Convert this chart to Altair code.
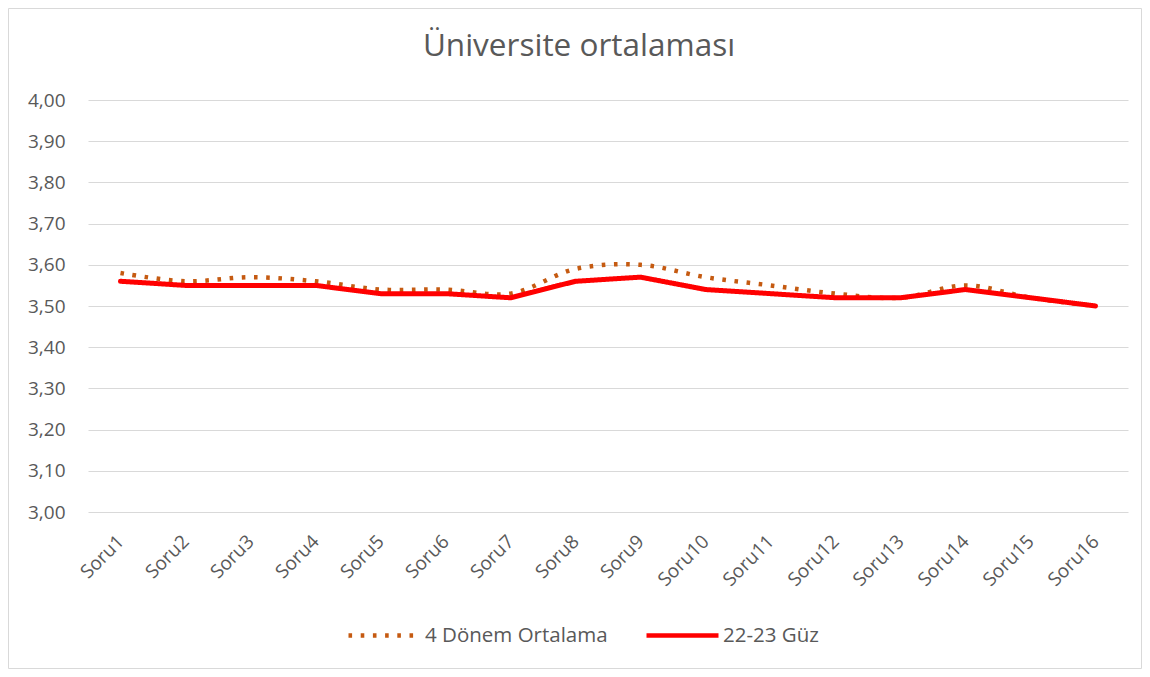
import altair as alt
import pandas as pd

categories = ["Soru1", "Soru2", "Soru3", "Soru4", "Soru5", "Soru6", "Soru7", "Soru8",
              "Soru9", "Soru10", "Soru11", "Soru12", "Soru13", "Soru14", "Soru15", "Soru16"]
donem4 = [3.58, 3.56, 3.57, 3.56, 3.54, 3.54, 3.53, 3.59, 3.60, 3.57, 3.55, 3.53, 3.52, 3.55, 3.52, 3.50]
guz = [3.56, 3.55, 3.55, 3.55, 3.53, 3.53, 3.52, 3.56, 3.57, 3.54, 3.53, 3.52, 3.52, 3.54, 3.52, 3.50]
series_names = ["4 Dönem Ortalama", "22-23 Güz"]
y_ticks = [3.00, 3.10, 3.20, 3.30, 3.40, 3.50, 3.60, 3.70, 3.80, 3.90, 4.00]

rows = []
for name, vals in zip(series_names, [donem4, guz]):
    for c, v in zip(categories, vals):
        rows.append({"cat": c, "value": v, "series": name})
df = pd.DataFrame(rows)

FONT = "Open Sans"
GREY = "#595959"

legend = alt.Legend(title=None, orient="none", legendX=258, legendY=497,
                    direction="horizontal", symbolType="stroke", symbolSize=72 * 72,
                    symbolStrokeWidth=4.5, labelFontSize=20.5, labelFont=FONT,
                    labelColor=GREY, columnPadding=29, labelOffset=2, padding=0,
                    labelLimit=400)

x = alt.X("cat:N", sort=categories,
          scale=alt.Scale(type="point", padding=0.5),
          axis=alt.Axis(title=None, labelAngle=-45, domain=False, ticks=False, grid=False,
                        labelPadding=26, labelAlign="right", labelBaseline="middle"))
y = alt.Y("value:Q", scale=alt.Scale(domain=[3.0, 4.0], nice=False, zero=False),
          axis=alt.Axis(title=None, values=y_ticks, domain=False, ticks=False,
                        labelPadding=23, gridColor="#d9d9d9", gridWidth=1,
                        labelExpr="replace(format(datum.value, '.2f'), '.', ',')"))
color = alt.Color("series:N", sort=series_names,
                  scale=alt.Scale(domain=series_names, range=["#C55A11", "#FF0000"]),
                  legend=legend)
dash = alt.StrokeDash("series:N", sort=series_names,
                      scale=alt.Scale(domain=series_names, range=[[3.6, 8.6], [1, 0]]),
                      legend=legend)

base = alt.Chart(df)
dotted = base.transform_filter(alt.datum.series == series_names[0]).mark_line(
    interpolate="catmull-rom", strokeWidth=4.5
).encode(x=x, y=y, color=color, strokeDash=dash)
solid = base.transform_filter(alt.datum.series == series_names[1]).mark_line(
    interpolate="linear", strokeWidth=5, strokeCap="round", strokeJoin="round"
).encode(x=x, y=y, color=color, strokeDash=dash)

border = alt.Chart(pd.DataFrame({"a": [0]})).mark_rect(
    fillOpacity=0, stroke="#d9d9d9", strokeWidth=1
).encode(x=alt.value(-79.5), x2=alt.value(1053.5), y=alt.value(-91.5), y2=alt.value(568.5))

chart = alt.layer(border, dotted, solid).properties(
    width=1040, height=412,
    padding={"left": 80, "top": 92, "right": 14, "bottom": 157},
    autosize=alt.AutoSizeParams(type="none"),
    title=alt.TitleParams("Üniversite ortalaması", font=FONT, fontSize=31.5,
                          fontWeight="normal", color=GREY, anchor="middle",
                          baseline="alphabetic", offset=-79.5, dx=-29),
).configure_view(stroke=None).configure_axis(
    labelFont=FONT, labelColor=GREY, labelFontSize=19
)

chart.save("out.html", embed_options={"renderer": "svg", "actions": False})
